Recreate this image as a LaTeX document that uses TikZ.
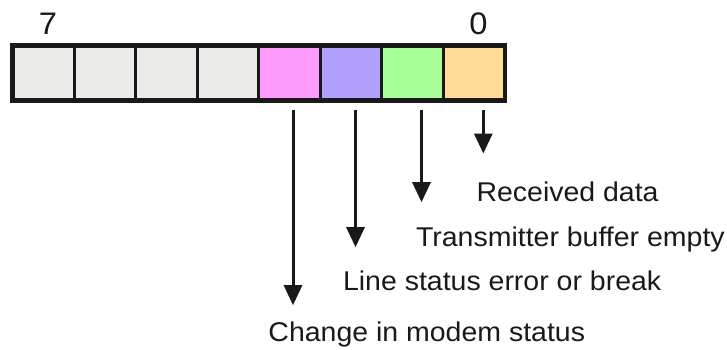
\documentclass[tikz,border=0pt]{standalone}
\usepackage{fontspec}
\setmainfont{Liberation Sans}[FakeStretch=1.05]
\usepackage{tikz}
\usetikzlibrary{arrows.meta, calc, positioning}
\usepackage{xcolor}
\definecolor{RichBlack}{rgb}{0.10, 0.10, 0.10}
\definecolor{CellGray}{RGB}{235, 235, 233}
\definecolor{CellPink}{RGB}{255, 155, 250}
\definecolor{CellViolet}{RGB}{178, 160, 255}
\definecolor{CellGreen}{RGB}{168, 255, 152}
\definecolor{CellOrange}{RGB}{255, 220, 150}
\tikzset{%
  bit_cell/.style={%
    rectangle,%
    draw=RichBlack,%
    line width=0.03in,%
    minimum width=0.615in,%
    minimum height=0.55in,%
    inner sep=0pt,%
    outer sep=0pt%
  },
  register_frame/.style={%
    draw=RichBlack,%
    line width=0.045in,%
  },
  bit_number/.style={%
    font={\fontsize{22.5}{26}\selectfont},%
    text=RichBlack,%
    inner sep=0pt,%
  },
  field_label/.style={%
    font={\fontsize{19.6}{24}\selectfont},%
    text=RichBlack,%
    anchor=base west,%
    inner sep=0pt,%
  },
  field_arrow/.style={%
    draw=RichBlack,%
    line width=0.03in,%
    -{Triangle[length=0.2in, width=0.18in]}%
  },
}
\begin{document}
\begin{tikzpicture}[x=1in, y=1in]
    \useasboundingbox (-0.435, -2.758) rectangle (6.835, 0.732);

    % register cells, bit 7 on the left
    \node [bit_cell, fill=CellGray] (Bit7) {};
    \node [bit_cell, fill=CellGray, right = 0pt of Bit7] (Bit6) {};
    \node [bit_cell, fill=CellGray, right = 0pt of Bit6] (Bit5) {};
    \node [bit_cell, fill=CellGray, right = 0pt of Bit5] (Bit4) {};
    \node [bit_cell, fill=CellPink, right = 0pt of Bit4] (Bit3) {};
    \node [bit_cell, fill=CellViolet, right = 0pt of Bit3] (Bit2) {};
    \node [bit_cell, fill=CellGreen, right = 0pt of Bit2] (Bit1) {};
    \node [bit_cell, fill=CellOrange, right = 0pt of Bit1] (Bit0) {};
    \draw [register_frame] (Bit7.north west) rectangle (Bit0.south east);

    \node [bit_number, anchor=base, xshift=0.045in, above = 0.105in of Bit7] (msb) {7};
    \node [bit_number, anchor=base, xshift=0.045in, above = 0.105in of Bit0] (lsb) {0};

    % arrow starts and tips
    \coordinate (tap_three) at ([xshift=0.035in, yshift=-0.09in]Bit3.south);
    \coordinate (tap_two) at ([xshift=0.045in, yshift=-0.09in]Bit2.south);
    \coordinate (tap_one) at ([xshift=0.09in, yshift=-0.09in]Bit1.south);
    \coordinate (tap_zero) at ([xshift=0.093in, yshift=-0.09in]Bit0.south);
    \coordinate [below = 1.955in of tap_three] (tip_three);
    \coordinate [below = 1.375in of tap_two] (tip_two);
    \coordinate [below = 0.925in of tap_one] (tip_one);
    \coordinate [below = 0.438in of tap_zero] (tip_zero);

    \draw [field_arrow] (tap_three) -- (tip_three);
    \draw [field_arrow] (tap_two) -- (tip_two);
    \draw [field_arrow] (tap_one) -- (tip_one);
    \draw [field_arrow] (tap_zero) -- (tip_zero);

    \node [field_label] (received)
      at ([shift={(-0.07in, -0.484in)}]tip_zero) {Received data};
    \node [field_label] (transmitter)
      at ([shift={(-0.057in, -0.44in)}]tip_one) {Transmitter buffer empty};
    \node [field_label] (line_status)
      at ([shift={(-0.127in, -0.437in)}]tip_two) {Line status error or break};
    \node [field_label] (modem)
      at ([shift={(-0.248in, -0.367in)}]tip_three) {Change in modem status};
  \end{tikzpicture}
\end{document}
